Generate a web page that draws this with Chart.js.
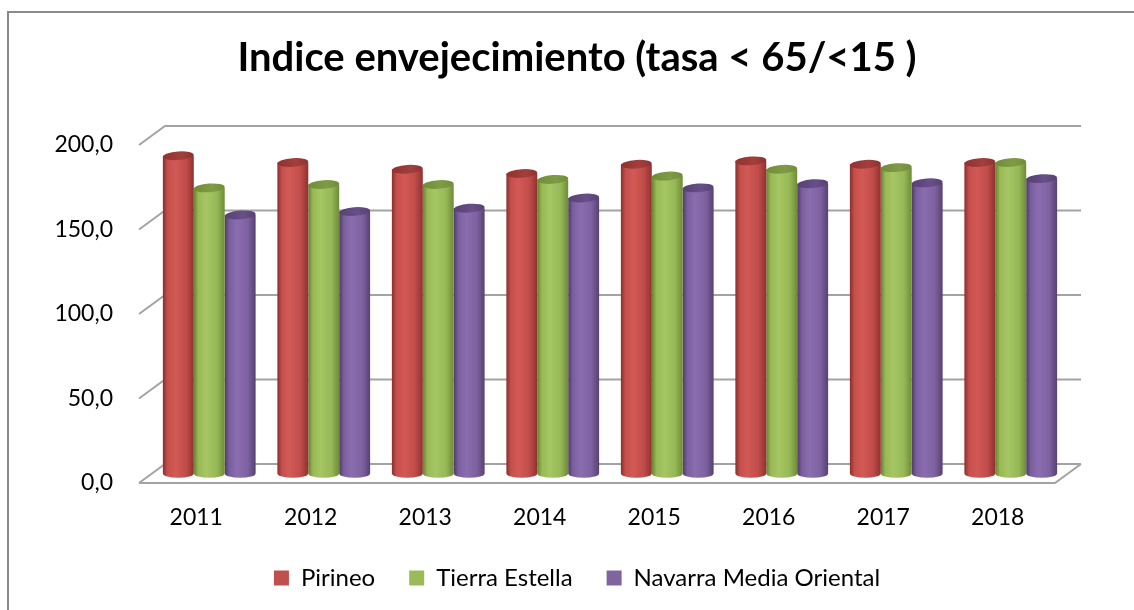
<!DOCTYPE html>
<html>
<head>
<meta charset="utf-8">
<script src="https://cdn.jsdelivr.net/npm/chart.js@4/dist/chart.umd.min.js"></script>
<style>
  html, body { margin: 0; padding: 0; background: #fff; }
  #wrap { width: 1134px; height: 610px; }
</style>
</head>
<body>
<div id="wrap"><canvas id="c" width="1134" height="610"></canvas></div>
<script>
(function () {
    'use strict';

    var YEARS = ['2011', '2012', '2013', '2014', '2015', '2016', '2017', '2018'];
    var PIRINEO = [188, 184, 180, 177.5, 183, 185, 183, 184];
    var TIERRA_ESTELLA = [169, 171, 171, 174, 176, 180, 181, 184];
    var NAVARRA_MEDIA = [153, 155, 157, 163, 169, 171.5, 172, 174.5];
    var Y_TICKS = [0, 50, 100, 150, 200];

    var FONT = 'Lato, "Open Sans", sans-serif';
    var DEPTH_X = 26, DEPTH_Y = -19;   // front plane -> back wall

    // cylinder shading per series: edge, light, mid, right, dark edge, top
    var SHADES = [
        ['#87302e', '#c64f4c', '#d25956', '#c04c49', '#8f3230', '#a23f3c'],
        ['#66832f', '#98b955', '#a5c663', '#97b857', '#6f8c36', '#7f9b45'],
        ['#4e3a6a', '#7a5f9c', '#8a6db0', '#7d61a0', '#574174', '#684f88']
    ];

    function fmt(v) {
        return v.toFixed(1).replace('.', ',');
    }

    var frame = {
        id: 'frame',
        beforeDraw: function (chart) {
            var ctx = chart.ctx;
            ctx.save();
            ctx.fillStyle = '#fff';
            ctx.fillRect(0, 0, chart.width, chart.height);
            ctx.strokeStyle = '#8a8a8a';
            ctx.lineWidth = 2;
            ctx.strokeRect(8, 12, 1140, 620);
            ctx.restore();
        }
    };

    var walls = {
        id: 'walls',
        beforeDatasetsDraw: function (chart) {
            var ctx = chart.ctx, y = chart.scales.y, a = chart.chartArea;
            ctx.save();
            ctx.strokeStyle = '#a3a3a3';
            ctx.lineWidth = 2;
            ctx.beginPath();
            for (var i = 0; i < Y_TICKS.length; i++) {
                var py = y.getPixelForValue(Y_TICKS[i]);
                ctx.moveTo(a.left, py);
                ctx.lineTo(a.left + DEPTH_X, py + DEPTH_Y);
                ctx.lineTo(a.right + DEPTH_X, py + DEPTH_Y);
            }
            var b = y.getPixelForValue(0);
            ctx.moveTo(a.left, b);
            ctx.lineTo(a.right, b);
            ctx.lineTo(a.right + DEPTH_X, b + DEPTH_Y);
            ctx.stroke();
            ctx.restore();
        }
    };

    function drawCylinder(ctx, x, top, bottom, w, s) {
        var rx = w / 2, ry = w * 0.14;
        var g = ctx.createLinearGradient(x - rx, 0, x + rx, 0);
        g.addColorStop(0, s[0]);
        g.addColorStop(0.15, s[1]);
        g.addColorStop(0.4, s[2]);
        g.addColorStop(0.75, s[3]);
        g.addColorStop(1, s[4]);
        ctx.beginPath();
        ctx.moveTo(x - rx, top);
        ctx.lineTo(x - rx, bottom);
        ctx.ellipse(x, bottom, rx, ry, 0, Math.PI, 0, true);
        ctx.lineTo(x + rx, top);
        ctx.closePath();
        ctx.fillStyle = g;
        ctx.fill();

        var tg = ctx.createLinearGradient(x - rx, top, x + rx, top);
        tg.addColorStop(0, s[4]);
        tg.addColorStop(0.6, s[5]);
        tg.addColorStop(1, s[4]);
        ctx.beginPath();
        ctx.ellipse(x, top, rx, ry, -0.07, 0, Math.PI * 2);
        ctx.fillStyle = tg;
        ctx.fill();
    }

    var cylinders = {
        id: 'cylinders',
        beforeDatasetDraw: function (chart, args) {
            var ctx = chart.ctx;
            var meta = args.meta;
            var s = SHADES[args.index];
            ctx.save();
            for (var i = 0; i < meta.data.length; i++) {
                var el = meta.data[i];
                drawCylinder(ctx, el.x + DEPTH_X / 2, el.y + DEPTH_Y / 2, el.base + DEPTH_Y / 2, el.width, s);
            }
            ctx.restore();
            return false;
        }
    };

    new Chart(document.getElementById('c'), {
        type: 'bar',
        data: {
            labels: YEARS,
            datasets: [
                { label: 'Pirineo', data: PIRINEO, backgroundColor: '#c0504d' },
                { label: 'Tierra Estella', data: TIERRA_ESTELLA, backgroundColor: '#9bbb59' },
                { label: 'Navarra Media Oriental', data: NAVARRA_MEDIA, backgroundColor: '#8064a2' }
            ]
        },
        options: {
            responsive: false,
            animation: false,
            categoryPercentage: 0.81,
            barPercentage: 1,
            layout: { padding: { left: 20, right: 0, top: 0, bottom: 18 } },
            plugins: {
                title: {
                    display: true,
                    text: 'Indice envejecimiento (tasa < 65/<15 )',
                    color: '#000',
                    font: { family: FONT, size: 40, weight: 'bold', lineHeight: 1.2 },
                    padding: { top: 34.5, bottom: 62.5 }
                },
                legend: {
                    position: 'bottom',
                    maxHeight: 60,
                    labels: {
                        color: '#000',
                        font: { family: FONT, size: 24 },
                        boxWidth: 15,
                        boxHeight: 15,
                        padding: 34
                    }
                },
                tooltip: { enabled: false }
            },
            scales: {
                x: {
                    grid: { display: false, drawTicks: false },
                    border: { display: false },
                    ticks: { color: '#000', font: { family: FONT, size: 23 }, padding: 21, maxRotation: 0 },
                    afterFit: function (s) { s.height = 49; }
                },
                y: {
                    min: 0,
                    max: 200,
                    afterBuildTicks: function (s) {
                        s.ticks = Y_TICKS.map(function (v) { return { value: v }; });
                    },
                    grid: { display: false, drawTicks: false },
                    border: { display: false },
                    ticks: {
                        color: '#000',
                        font: { family: FONT, size: 23 },
                        padding: 26,
                        callback: function (v) { return fmt(v); }
                    },
                    afterFit: function (s) { s.width = 119; }
                },
                yRight: {
                    position: 'right',
                    grid: { display: false, drawTicks: false },
                    border: { display: false },
                    ticks: { display: false },
                    afterFit: function (s) { s.width = 79; }
                }
            }
        },
        plugins: [frame, walls, cylinders]
    });
})();
</script>
</body>
</html>
